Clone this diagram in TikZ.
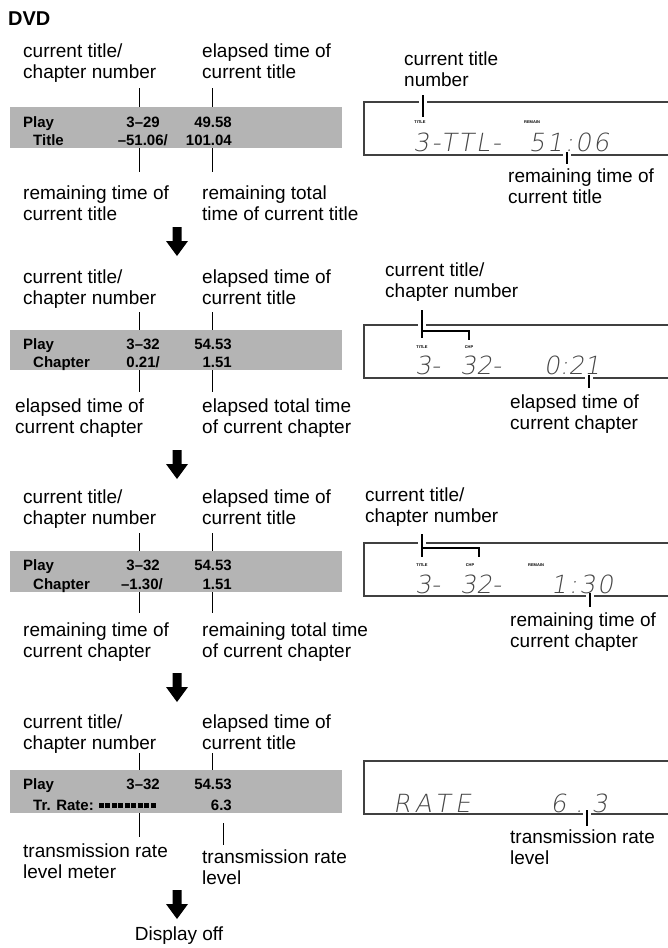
\documentclass[tikz,border=0pt]{standalone}
\usepackage{fontspec}
\setmainfont{Liberation Sans}
\newfontfamily\lcdfont{DejaVu Sans}[UprightFont=* ExtraLight, FakeSlant=0.18]
\definecolor{barcol}{RGB}{180,180,180}
\definecolor{lcdcol}{RGB}{70,70,70}
\newcommand\twolbl[5]{\node[lbl] (#1a) at (#2,#3) {#4};\node[lbl] (#1b) at (#2,#3+21.5) {#5};}
\newcommand\bigarrow[3]{\fill (#2-4.5,#3) -- (#2+4.5,#3) -- (#2+4.5,#3+14) -- (#2+11,#3+14) -- (#2,#3+29) -- (#2-11,#3+14) -- (#2-4.5,#3+14) -- cycle; \coordinate (#1) at (#2,#3+29);}
\begin{document}
\begin{tikzpicture}[x=1pt,y=-1pt,
  lbl/.style={anchor=base west, inner sep=0, font=\fontsize{19}{21.5}\selectfont},
  bt/.style={inner sep=0, font=\bfseries\fontsize{15}{18}\selectfont},
  barbox/.style={fill=barcol, draw=none, anchor=north west, inner sep=0, minimum width=332pt},
  tick/.style={black, line width=1pt},
  panel/.style={black!75, line width=1.3pt},
  lcdtick/.style={black, line width=2pt},
  gap/.style={white, line width=8pt},
  tiny/.style={inner sep=0, font=\bfseries\fontsize{4}{4}\selectfont},
  lcd/.style={inner sep=0, text=lcdcol, font=\lcdfont\fontsize{25}{25}\selectfont},
  meter/.style={fill=black, draw=none}
]
\useasboundingbox (0,0) rectangle (668,948);

\node[anchor=base west, inner sep=0, font=\bfseries\fontsize{20}{20}\selectfont] (dvd) at (8,25) {DVD};

% ---------------- Block 1
\twolbl{la}{23}{57}{current title/}{chapter number}
\twolbl{lb}{202}{57}{elapsed time of}{current title}
\node[barbox, minimum height=41pt] (bar1) at (10,107) {};
\node[bt, anchor=base west] (p1) at (23,127) {Play};
\node[bt, anchor=base east] (n1) at (160,127) {3–29};
\node[bt, anchor=base east] (e1) at (232,127) {49.58};
\node[bt, anchor=base west] (m1) at (33,145) {Title};
\node[bt, anchor=base east] (r1) at (168,145) {–51.06/};
\node[bt, anchor=base east] (t1) at (232,145) {101.04};
\coordinate (k1a) at (139,88); \coordinate (k1b) at (212,88);
\coordinate (k1c) at (139,172); \coordinate (k1d) at (212,172);
\draw[tick] (k1a) -- (k1a |- bar1.north);
\draw[tick] (k1b) -- (k1b |- bar1.north);
\draw[tick] (bar1.south -| k1c) -- (k1c);
\draw[tick] (bar1.south -| k1d) -- (k1d);
\twolbl{lc}{23}{199}{remaining time of}{current title}
\twolbl{ld}{202}{199}{remaining total}{time of current title}

% LCD 1
\draw[panel] (668,102) -- (364,102) -- (364,155) -- (668,155);
\twolbl{da}{404}{65}{current title}{number}
\coordinate (q1a) at (423,95); \coordinate (q1b) at (423,117);
\draw[gap] (423,100) -- (423,104);
\draw[lcdtick] (q1a) -- (q1b);
\node[tiny] (tt1) at (420,122) {TITLE};
\node[tiny] (rm1) at (532,122) {REMAIN};
\node[lcd, anchor=west] (g1a) at (413,142) {\addfontfeature{LetterSpace=10}3-TTL-};
\node[lcd] (g1b) at (569,142) {\addfontfeature{LetterSpace=8}51:06};
\coordinate (q1c) at (567,152); \coordinate (q1d) at (567,164);
\draw[gap] (567,153) -- (567,157);
\draw[lcdtick] (q1c) -- (q1d);
\twolbl{db}{508}{182}{remaining time of}{current title}

\bigarrow{ar1}{177}{227}

% ---------------- Block 2
\twolbl{le}{23}{283}{current title/}{chapter number}
\twolbl{lf}{202}{283}{elapsed time of}{current title}
\node[barbox, minimum height=40pt] (bar2) at (10,330) {};
\node[bt, anchor=base west] (p2) at (23,349) {Play};
\node[bt, anchor=base east] (n2) at (160,349) {3–32};
\node[bt, anchor=base east] (e2) at (232,349) {54.53};
\node[bt, anchor=base west] (m2) at (33,367) {Chapter};
\node[bt, anchor=base east] (r2) at (160,367) {0.21/};
\node[bt, anchor=base east] (t2) at (232,367) {1.51};
\coordinate (k2a) at (139,312); \coordinate (k2b) at (212,312);
\coordinate (k2c) at (139,392); \coordinate (k2d) at (212,392);
\draw[tick] (k2a) -- (k2a |- bar2.north);
\draw[tick] (k2b) -- (k2b |- bar2.north);
\draw[tick] (bar2.south -| k2c) -- (k2c);
\draw[tick] (bar2.south -| k2d) -- (k2d);
\twolbl{lg}{15}{412}{elapsed time of}{current chapter}
\twolbl{lh}{202}{412}{elapsed total time}{of current chapter}

% LCD 2
\draw[panel] (668,325) -- (364,325) -- (364,378) -- (668,378);
\twolbl{dc}{385}{276}{current title/}{chapter number}
\coordinate (q2a) at (422,310); \coordinate (q2b) at (422,338);
\draw[gap] (422,323) -- (422,327);
\draw[lcdtick] (q2a) -- (q2b);
\draw[lcdtick] (422,331) -- (469,331) -- (469,340);
\node[tiny] (tt2) at (422,347) {TITLE};
\node[tiny] (ch2) at (469,347) {CHP};
\node[lcd, anchor=west] (g2a) at (415,365) {3-};
\node[lcd, anchor=west] (g2b) at (460,365) {32-};
\node[lcd] (g2c) at (572,365) {0:21};
\coordinate (q2c) at (589,375); \coordinate (q2d) at (589,388);
\draw[gap] (589,376) -- (589,380);
\draw[lcdtick] (q2c) -- (q2d);
\twolbl{dd}{510}{408}{elapsed time of}{current chapter}

\bigarrow{ar2}{177}{450}

% ---------------- Block 3
\twolbl{li}{23}{503}{current title/}{chapter number}
\twolbl{lj}{202}{503}{elapsed time of}{current title}
\node[barbox, minimum height=41pt] (bar3) at (10,551) {};
\node[bt, anchor=base west] (p3) at (23,570) {Play};
\node[bt, anchor=base east] (n3) at (160,570) {3–32};
\node[bt, anchor=base east] (e3) at (232,570) {54.53};
\node[bt, anchor=base west] (m3) at (33,589) {Chapter};
\node[bt, anchor=base east] (r3) at (163,589) {–1.30/};
\node[bt, anchor=base east] (t3) at (232,589) {1.51};
\coordinate (k3a) at (139,533); \coordinate (k3b) at (212,533);
\coordinate (k3c) at (139,613); \coordinate (k3d) at (212,613);
\draw[tick] (k3a) -- (k3a |- bar3.north);
\draw[tick] (k3b) -- (k3b |- bar3.north);
\draw[tick] (bar3.south -| k3c) -- (k3c);
\draw[tick] (bar3.south -| k3d) -- (k3d);
\twolbl{lk}{23}{636}{remaining time of}{current chapter}
\twolbl{ll}{202}{636}{remaining total time}{of current chapter}

% LCD 3
\draw[panel] (668,543) -- (364,543) -- (364,596) -- (668,596);
\twolbl{de}{365}{501}{current title/}{chapter number}
\coordinate (q3a) at (422,534); \coordinate (q3b) at (422,557);
\draw[gap] (422,541) -- (422,545);
\draw[lcdtick] (q3a) -- (q3b);
\draw[lcdtick] (422,548) -- (479,548) -- (479,557);
\node[tiny] (tt3) at (422,565) {TITLE};
\node[tiny] (ch3) at (470,565) {CHP};
\node[tiny] (rm3) at (536,565) {REMAIN};
\node[lcd, anchor=west] (g3a) at (415,584) {3-};
\node[lcd, anchor=west] (g3b) at (460,584) {32-};
\node[lcd] (g3c) at (582,584) {\addfontfeature{LetterSpace=8}1:30};
\coordinate (q3c) at (590,593); \coordinate (q3d) at (590,607);
\draw[gap] (590,594) -- (590,598);
\draw[lcdtick] (q3c) -- (q3d);
\twolbl{df}{510}{626}{remaining time of}{current chapter}

\bigarrow{ar3}{177}{673}

% ---------------- Block 4
\twolbl{lm}{23}{728}{current title/}{chapter number}
\twolbl{ln}{202}{728}{elapsed time of}{current title}
\node[barbox, minimum height=43pt] (bar4) at (10,770) {};
\node[bt, anchor=base west] (p4) at (23,789) {Play};
\node[bt, anchor=base east] (n4) at (160,789) {3–32};
\node[bt, anchor=base east] (e4) at (232,789) {54.53};
\node[bt, anchor=base west] (m4) at (33,810) {Tr. Rate:};
\foreach \i in {0,...,8} {\fill[meter] (98.5+\i*6.5,802.7) rectangle ++(5,5.6);}
\node[bt, anchor=base east] (t4) at (232,810) {6.3};
\coordinate (k4a) at (139,753); \coordinate (k4b) at (212,753);
\coordinate (k4c) at (139,837); \coordinate (k4d) at (223,845); \coordinate (k4e) at (223,823);
\draw[tick] (k4a) -- (k4a |- bar4.north);
\draw[tick] (k4b) -- (k4b |- bar4.north);
\draw[tick] (bar4.south -| k4c) -- (k4c);
\draw[tick] (k4e) -- (k4d);
\twolbl{lo}{23}{857}{transmission rate}{level meter}
\twolbl{lp}{202}{863}{transmission rate}{level}

% LCD 4
\draw[panel] (668,761) -- (364,761) -- (364,814) -- (668,814);
\node[lcd] (g4a) at (432,803) {\addfontfeature{LetterSpace=20}RATE};
\node[lcd] (g4b) at (579,803) {\addfontfeature{LetterSpace=35}6.3};
\coordinate (q4c) at (587,810); \coordinate (q4d) at (587,826);
\draw[gap] (587,812) -- (587,816);
\draw[lcdtick] (q4c) -- (q4d);
\twolbl{dg}{510}{843}{transmission rate}{level}

\bigarrow{ar4}{177}{890}
\node[anchor=base, inner sep=0, font=\fontsize{19}{21.5}\selectfont] (off) at (179,940) {Display off};
\end{tikzpicture}
\end{document}
